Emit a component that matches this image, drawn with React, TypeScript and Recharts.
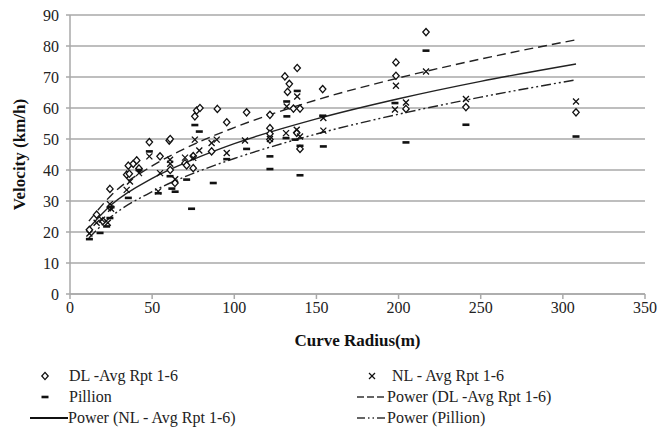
import React from "react";
import {
  CartesianGrid,
  ComposedChart,
  Line,
  Scatter,
  XAxis,
  YAxis,
} from "recharts";

// DL - Avg Rpt 1-6 (diamonds)
const dlRadius = [
  11.8, 16.2, 20, 24.3, 24.5, 34.5, 35.5, 36.1, 38.5, 40.6, 42, 48.3, 54.8,
  60.4, 61, 61, 63.9, 70, 71, 75, 75, 76, 77.1, 79.1, 86.2, 89.7, 95.4, 107.5,
  121.7, 121.7, 121.7, 121.7, 130.8, 132.4, 133.5, 136, 138.3, 140, 138, 140,
  153.8, 198.4, 198.4, 204.5, 216.7, 241, 308,
];
const dlSpeed = [
  20.7, 25.6, 23.5, 33.9, 28, 38.5, 41.4, 38.8, 42, 43.1, 40.5, 49, 44.4, 49.5,
  50, 40, 35.8, 42.2, 41.5, 40.6, 44.5, 57.3, 59.2, 60, 46, 59.7, 55.4, 58.6,
  57.8, 53.5, 51.7, 49.8, 70.2, 65.2, 67.8, 59.8, 72.9, 59.8, 52, 46.8, 66.1,
  74.7, 70.4, 59.7, 84.5, 60.3, 58.6,
];

// NL - Avg Rpt 1-6 (crosses)
const nlRadius = [
  11.8, 16.2, 19.5, 23, 24.3, 25, 34.5, 36.5, 42, 48.3, 54.8, 53.7, 60.9, 61,
  64, 70, 75, 76, 78.7, 86.2, 89.3, 95.4, 106.5, 121.7, 131.5, 131.9, 138,
  138.3, 140, 154.2, 154.2, 198.4, 197.8, 204.5, 216.7, 241, 308,
];
const nlSpeed = [
  19.5, 23, 24, 23, 29, 27.5, 33.6, 36.3, 39, 44.4, 39, 33.1, 43.3, 42, 37, 44,
  43.9, 49.8, 46.3, 48.7, 49.8, 45.5, 49.5, 50, 51.9, 60.5, 53, 63.7, 50.8,
  56.8, 52.7, 67.2, 59.5, 61.8, 71.8, 62.9, 62.1,
];

// Pillion (bars)
const pillionRadius = [
  11.8, 18.3, 22.3, 24.3, 25, 35.5, 42, 48.3, 53.7, 60.9, 62, 64, 71, 74, 76,
  78.7, 87.2, 95.4, 107.5, 121.7, 121.7, 132, 131.5, 131.9, 137, 138.3, 140,
  140, 153.8, 154.2, 197.8, 204.5, 216.7, 241, 308,
];
const pillionSpeed = [
  17.7, 19.7, 21.8, 24.5, 28, 31, 40, 46, 32.5, 38, 34, 33, 36.9, 27.5, 54.5,
  52.4, 35.8, 43.5, 46.8, 44.4, 40.3, 57.3, 50.3, 62.1, 49.8, 65.5, 47.8, 38.3,
  57.5, 47.6, 61.6, 48.9, 78.5, 54.6, 50.8,
];

// power trend lines
const trendRadius = [11.5, 25, 50, 75, 100, 150, 200, 250, 308];
const trendDL = [23.5, 31.8, 41.3, 48.2, 53.7, 62.6, 69.7, 75.8, 82];
const trendNL = [21.3, 28.7, 37.3, 43.4, 48.5, 56.5, 63, 68.6, 74.2];
const trendPillion = [18.1, 24.9, 33, 38.9, 43.7, 51.6, 58, 63.5, 69.1];

const xTicks = [0, 50, 100, 150, 200, 250, 300, 350];
const yTicks = [0, 10, 20, 30, 40, 50, 60, 70, 80, 90];

const toPoints = (xs: number[], ys: number[]) =>
  xs.map((x, i) => ({ x, y: ys[i] }));

const serif = "'Liberation Serif', 'Times New Roman', serif";
const ink = "#111";
const gridGrey = "#a9a9a9";

const Diamond = (p: any) => (
  <path
    d={`M${p.cx},${p.cy - 3.6}L${p.cx + 3.2},${p.cy}L${p.cx},${p.cy + 3.6}L${p.cx - 3.2},${p.cy}Z`}
    fill="#fff"
    stroke={ink}
    strokeWidth={1.3}
  />
);

const Cross = (p: any) => (
  <g stroke={ink} strokeWidth={1.3}>
    <line x1={p.cx - 3} y1={p.cy - 3} x2={p.cx + 3} y2={p.cy + 3} />
    <line x1={p.cx - 3} y1={p.cy + 3} x2={p.cx + 3} y2={p.cy - 3} />
  </g>
);

const Bar = (p: any) => (
  <rect x={p.cx - 3.5} y={p.cy - 1.3} width={7} height={2.6} fill={ink} />
);

const YTitle = ({ viewBox }: any) => {
  const cx = viewBox.x + 19;
  const cy = viewBox.y + viewBox.height / 2;
  return (
    <text
      x={cx}
      y={cy}
      transform={`rotate(-90 ${cx} ${cy})`}
      textAnchor="middle"
      dominantBaseline="central"
      style={{ fontFamily: serif, fontWeight: "bold", fontSize: 17 }}
      fill={ink}
    >
      Velocity (km/h)
    </text>
  );
};

const XTitle = ({ viewBox }: any) => (
  <text
    x={viewBox.x + viewBox.width / 2}
    y={viewBox.y + 46}
    textAnchor="middle"
    dominantBaseline="central"
    style={{ fontFamily: serif, fontWeight: "bold", fontSize: 17 }}
    fill={ink}
  >
    Curve Radius(m)
  </text>
);

const tickStyle = { fill: "#222", fontSize: 16, style: { fontFamily: serif } };

const legendText: React.CSSProperties = {
  position: "absolute",
  fontFamily: serif,
  fontSize: 16,
  color: "#222",
  lineHeight: "18px",
  whiteSpace: "nowrap",
};

const LegendItem = ({
  left,
  top,
  icon,
  iconLeft,
  label,
}: {
  left: number;
  top: number;
  icon: React.ReactNode;
  iconLeft: number;
  label: string;
}) => (
  <>
    <svg
      style={{ position: "absolute", left: iconLeft, top: top - 2 }}
      width={left - iconLeft}
      height={22}
    >
      {icon}
    </svg>
    <div style={{ ...legendText, left, top }}>{label}</div>
  </>
);

export default function App() {
  return (
    <div
      style={{
        position: "absolute",
        left: 0,
        top: 0,
        width: 657,
        height: 430,
        background: "#fff",
        fontFamily: serif,
      }}
    >
      <ComposedChart
        width={657}
        height={430}
        margin={{ top: 15, right: 12, left: 0, bottom: 86 }}
        style={{ fontFamily: serif }}
      >
        <CartesianGrid
          horizontal
          vertical={false}
          stroke={gridGrey}
          strokeWidth={1.5}
        />
        <XAxis
          type="number"
          dataKey="x"
          domain={[0, 350]}
          ticks={xTicks}
          allowDataOverflow
          height={50}
          stroke={gridGrey}
          strokeWidth={1.5}
          tickSize={5}
          tickMargin={3}
          tick={tickStyle}
          label={<XTitle />}
        />
        <YAxis
          type="number"
          dataKey="y"
          domain={[0, 90]}
          ticks={yTicks}
          width={70}
          stroke={gridGrey}
          strokeWidth={1.5}
          tickSize={4}
          tickMargin={7}
          tick={tickStyle}
          label={<YTitle />}
        />
        <Scatter
          name="DL -Avg Rpt 1-6"
          data={toPoints(dlRadius, dlSpeed)}
          shape={<Diamond />}
          isAnimationActive={false}
        />
        <Scatter
          name="NL - Avg Rpt 1-6"
          data={toPoints(nlRadius, nlSpeed)}
          shape={<Cross />}
          isAnimationActive={false}
        />
        <Scatter
          name="Pillion"
          data={toPoints(pillionRadius, pillionSpeed)}
          shape={<Bar />}
          isAnimationActive={false}
        />
        <Line
          name="Power (DL -Avg Rpt 1-6)"
          data={toPoints(trendRadius, trendDL)}
          dataKey="y"
          type="monotone"
          stroke="#222"
          strokeWidth={1.4}
          strokeDasharray="9 5"
          dot={false}
          activeDot={false}
          isAnimationActive={false}
        />
        <Line
          name="Power (NL - Avg Rpt 1-6)"
          data={toPoints(trendRadius, trendNL)}
          dataKey="y"
          type="monotone"
          stroke="#222"
          strokeWidth={1.4}
          dot={false}
          activeDot={false}
          isAnimationActive={false}
        />
        <Line
          name="Power (Pillion)"
          data={toPoints(trendRadius, trendPillion)}
          dataKey="y"
          type="monotone"
          stroke="#222"
          strokeWidth={1.4}
          strokeDasharray="10 3 2 3 2 3"
          dot={false}
          activeDot={false}
          isAnimationActive={false}
        />
      </ComposedChart>

      <LegendItem
        left={69}
        top={367}
        iconLeft={30}
        label="DL -Avg Rpt 1-6"
        icon={<Diamond cx={15} cy={11} />}
      />
      <LegendItem
        left={69}
        top={388}
        iconLeft={30}
        label="Pillion"
        icon={<Bar cx={15} cy={11} />}
      />
      <LegendItem
        left={68}
        top={409}
        iconLeft={30}
        label="Power (NL - Avg Rpt 1-6)"
        icon={<line x1={0} y1={11} x2={38} y2={11} stroke={ink} strokeWidth={2} />}
      />
      <LegendItem
        left={392}
        top={367}
        iconLeft={356}
        label="NL - Avg Rpt 1-6"
        icon={<Cross cx={16} cy={11} />}
      />
      <LegendItem
        left={387}
        top={388}
        iconLeft={356}
        label="Power (DL -Avg Rpt 1-6)"
        icon={
          <line
            x1={1}
            y1={11}
            x2={31}
            y2={11}
            stroke="#333"
            strokeWidth={1.3}
            strokeDasharray="7 3"
          />
        }
      />
      <LegendItem
        left={387}
        top={409}
        iconLeft={356}
        label="Power (Pillion)"
        icon={
          <line
            x1={1}
            y1={11}
            x2={31}
            y2={11}
            stroke="#333"
            strokeWidth={1.3}
            strokeDasharray="8 3 1.5 3 1.5 3"
          />
        }
      />
    </div>
  );
}
